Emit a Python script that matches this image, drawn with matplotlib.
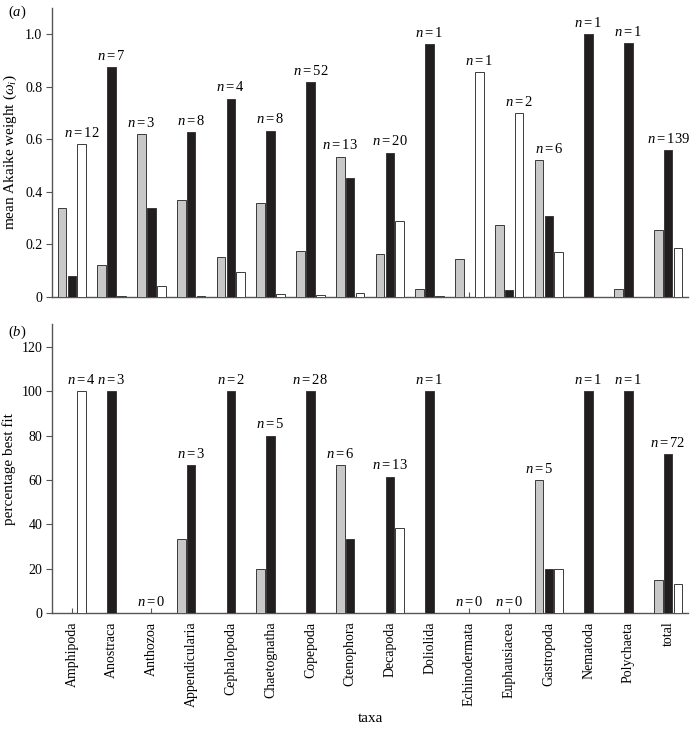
import numpy as np
import matplotlib
matplotlib.use("Agg")
import matplotlib.pyplot as plt

plt.rcParams['font.family'] = ['Liberation Serif', 'DejaVu Serif']
plt.rcParams['mathtext.fontset'] = 'custom'
plt.rcParams['mathtext.rm'] = 'Liberation Serif'
plt.rcParams['mathtext.it'] = 'Liberation Serif:italic'
plt.rcParams['mathtext.bf'] = 'Liberation Serif:bold'

taxa = ["Amphipoda", "Anostraca", "Anthozoa", "Appendicularia", "Cephalopoda",
        "Chaetognatha", "Copepoda", "Ctenophora", "Decapoda", "Doliolida",
        "Echinodermata", "Euphausiacea", "Gastropoda", "Nematoda", "Polychaeta", "total"]

# panel (a): mean Akaike weight
akaike_grey = [0.337, 0.121, 0.620, 0.369, 0.151, 0.357, 0.175, 0.534, 0.164, 0.029,
               0.143, 0.272, 0.520, 0.0, 0.029, 0.255]
akaike_black = [0.080, 0.875, 0.338, 0.626, 0.755, 0.633, 0.818, 0.451, 0.549, 0.964,
                0.0, 0.026, 0.308, 1.000, 0.968, 0.559]
akaike_white = [0.582, 0.004, 0.041, 0.004, 0.093, 0.009, 0.006, 0.015, 0.287, 0.004,
                0.856, 0.700, 0.169, 0.0, 0.0, 0.184]
n_a = [12, 7, 3, 8, 4, 8, 52, 13, 20, 1, 1, 2, 6, 1, 1, 139]
label_bar_a = [2, 1, 0, 1, 1, 1, 1, 0, 1, 1, 2, 2, 1, 1, 1, 1]

# panel (b): percentage best fit
best_grey = [0, 0, 0, 33.3, 0, 20, 0, 66.7, 0, 0, 0, 0, 60, 0, 0, 15.0]
best_black = [0, 100, 0, 66.7, 100, 80, 100, 33.3, 61.5, 100, 0, 0, 20, 100, 100, 71.7]
best_white = [100, 0, 0, 0, 0, 0, 0, 0, 38.5, 0, 0, 0, 20, 0, 0, 13.2]
n_b = [4, 3, 0, 3, 2, 5, 28, 6, 13, 1, 0, 0, 5, 1, 1, 72]

GREY = '#c8c8c8'
BLACK = '#221e1f'
WHITE = '#ffffff'
EDGE = '#3a3a3a'
SPINE = '#555555'

fig = plt.figure(figsize=(6.92, 7.31), dpi=100)
W, H = 692, 731
x0, x1 = 52, 688
axA = fig.add_axes([x0 / W, 1 - 296.7 / H, (x1 - x0) / W, (296.7 - 8.1) / H])
axB = fig.add_axes([x0 / W, 1 - 613.3 / H, (x1 - x0) / W, (613.3 - 324.4) / H])

x = np.arange(len(taxa))
off = 0.25
bw = 0.22


def draw(ax, g, b, w):
    series = [(g, GREY), (b, BLACK), (w, WHITE)]
    for i, (vals, col) in enumerate(series):
        ax.bar(x + (i - 1) * off, vals, width=bw, color=col, edgecolor=EDGE,
               linewidth=0.7, zorder=3)
    ax.set_xlim(-0.5, len(taxa) - 0.5)
    for s in ['top', 'right']:
        ax.spines[s].set_visible(False)
    for s in ['left', 'bottom']:
        ax.spines[s].set_color(SPINE)
        ax.spines[s].set_linewidth(1.0)
    ax.set_xticks(x)
    ax.tick_params(axis='x', direction='in', length=3.5, width=0.8, color=SPINE)
    ax.tick_params(axis='y', direction='out', length=4, width=0.8, color=SPINE,
                   labelsize=10, pad=3)
    ax.set_axisbelow(True)


draw(axA, akaike_grey, akaike_black, akaike_white)
axA.set_ylim(0, 1.1)
axA.set_yticks([0, 0.2, 0.4, 0.6, 0.8, 1.0])
axA.set_yticklabels(['0', '0.2', '0.4', '0.6', '0.8', '1.0'])
axA.set_xticklabels([])
axA.set_ylabel(r'mean Akaike weight ($\omega_i$)', fontsize=11, labelpad=4)

vals_a = [akaike_grey, akaike_black, akaike_white]
for i in range(len(taxa)):
    k = label_bar_a[i]
    top = max(vals_a[0][i], vals_a[1][i], vals_a[2][i])
    axA.annotate(r'$n = %d$' % n_a[i], xy=(x[i] + (k - 1) * off, top),
                 xytext=(0, 3), textcoords='offset points', ha='center',
                 va='bottom', fontsize=10.5)

draw(axB, best_grey, best_black, best_white)
axB.set_ylim(0, 130)
axB.set_yticks([0, 20, 40, 60, 80, 100, 120])
axB.set_xticklabels(taxa, rotation=90, fontsize=10)
axB.tick_params(axis='x', pad=6)
axB.set_ylabel('percentage best fit', fontsize=11, labelpad=4)
axB.set_xlabel('taxa', fontsize=11)
axB.xaxis.set_label_coords(0.5, (613.3 - 718) / (613.3 - 324.4))
axB.xaxis.label.set_va('center')

vals_b = [best_grey, best_black, best_white]
for i in range(len(taxa)):
    tops = [vals_b[0][i], vals_b[1][i], vals_b[2][i]]
    top = max(tops)
    if top == 0:
        xi = x[i]
    else:
        xi = x[i] + (int(np.argmax(tops)) - 1) * off
    axB.annotate(r'$n = %d$' % n_b[i], xy=(xi, top),
                 xytext=(0, 3), textcoords='offset points', ha='center',
                 va='bottom', fontsize=10.5)

fig.text(8 / W, 1 - 12 / H, r'($\it{a}$)', fontsize=10.5, va='center', ha='left')
fig.text(8 / W, 1 - 332 / H, r'($\it{b}$)', fontsize=10.5, va='center', ha='left')

fig.savefig('out.png', dpi=100)
